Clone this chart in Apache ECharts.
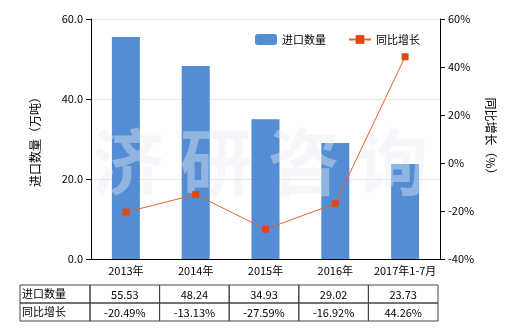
<!DOCTYPE html>
<html><head><meta charset="utf-8">
<script src="https://cdn.jsdelivr.net/npm/echarts@6/dist/echarts.min.js"></script>
<style>html,body{margin:0;padding:0;background:#fff}#c{width:520px;height:330px}</style>
</head><body><div id="c"></div>
<script>
const categories = ['2013年','2014年','2015年','2016年','2017年1-7月'];
const importQty = [55.53, 48.24, 34.93, 29.02, 23.73];
const yoyGrowth = [-20.49, -13.13, -27.59, -16.92, 44.26];
const qtyLabels = ['55.53','48.24','34.93','29.02','23.73'];
const yoyLabels = ['-20.49%','-13.13%','-27.59%','-16.92%','44.26%'];
const seriesNames = ['进口数量','同比增长'];
const watermark = ['济','研','咨','询'];

const font = '"Noto Sans CJK SC", sans-serif';
const chart = echarts.init(document.getElementById('c'), null, {renderer:'canvas'});

const tLeft = 20, tTop = 285, rowH = 18, firstColW = 70, colW = 69.6;
const g = [];
watermark.forEach((ch, i) => {
  g.push({type:'text', x: 92 + i*88, y: 126, z: 2, silent:true,
    style:{text:ch, font:'bold 72px "Noto Sans CJK SC"', fill:'rgba(232,236,242,0.42)'}});
});
const rows = [[seriesNames[0], qtyLabels],[seriesNames[1], yoyLabels]];
rows.forEach((r, i) => {
  const y = tTop + i*rowH;
  g.push({type:'rect', shape:{x:tLeft, y:y, width:firstColW, height:rowH}, style:{fill:'none', stroke:'#444', lineWidth:1}});
  g.push({type:'text', x:tLeft+2, y:y+rowH/2, style:{text:r[0], font:'11px '+font, fill:'#000', textVerticalAlign:'middle', verticalAlign:'middle'}});
  r[1].forEach((v, j) => {
    const x = tLeft + firstColW + j*colW;
    g.push({type:'rect', shape:{x:x, y:y, width:colW, height:rowH}, style:{fill:'none', stroke:'#444', lineWidth:1}});
    g.push({type:'text', x:x+colW/2, y:y+rowH/2+1, style:{text:v, font:'11px '+font, fill:'#000', align:'center', verticalAlign:'middle', textAlign:'center', textVerticalAlign:'middle'}});
  });
});

chart.setOption({
  animation:false,
  textStyle:{fontFamily:font},
  grid:{left:91, right:80, top:19, bottom:71},
  legend:{
    top:29, left:250, itemGap:22, itemWidth:22, itemHeight:11,
    textStyle:{fontSize:11, color:'#000', fontFamily:font},
    data:[{name:seriesNames[0]},{name:seriesNames[1]}]
  },
  xAxis:{
    type:'category', data:categories,
    axisLine:{lineStyle:{color:'#000'}},
    axisTick:{alignWithLabel:true, lineStyle:{color:'#000'}},
    axisLabel:{color:'#000', fontSize:11, margin:6, interval:0}
  },
  yAxis:[{
    type:'value', min:0, max:60, interval:20,
    name:'进口数量（万吨）', nameLocation:'middle', nameGap:50, nameRotate:90,
    nameTextStyle:{fontSize:12, color:'#000'},
    axisLine:{show:true, lineStyle:{color:'#000'}},
    axisTick:{show:true, lineStyle:{color:'#000'}},
    axisLabel:{color:'#000', fontSize:11, formatter:v=>v.toFixed(1)},
    splitLine:{lineStyle:{color:'#dcebe8'}}
  },{
    type:'value', min:-40, max:60, interval:20,
    name:'同比增长（%）', nameLocation:'middle', nameGap:44, nameRotate:-90,
    nameTextStyle:{fontSize:12, color:'#000'},
    axisLine:{show:true, lineStyle:{color:'#000'}},
    axisTick:{show:true, lineStyle:{color:'#000'}},
    axisLabel:{color:'#000', fontSize:11, formatter:'{value}%'},
    splitLine:{show:false}
  }],
  series:[{
    name:seriesNames[0], type:'bar', data:importQty, barWidth:28,
    itemStyle:{color:'#548dd4'}, z:1
  },{
    name:seriesNames[1], type:'line', yAxisIndex:1, data:yoyGrowth,
    symbol:'rect', symbolSize:7,
    lineStyle:{color:'#e8602c', width:1},
    itemStyle:{color:'#e04a12'}, z:3
  }],
  graphic:g
});
</script></body></html>
